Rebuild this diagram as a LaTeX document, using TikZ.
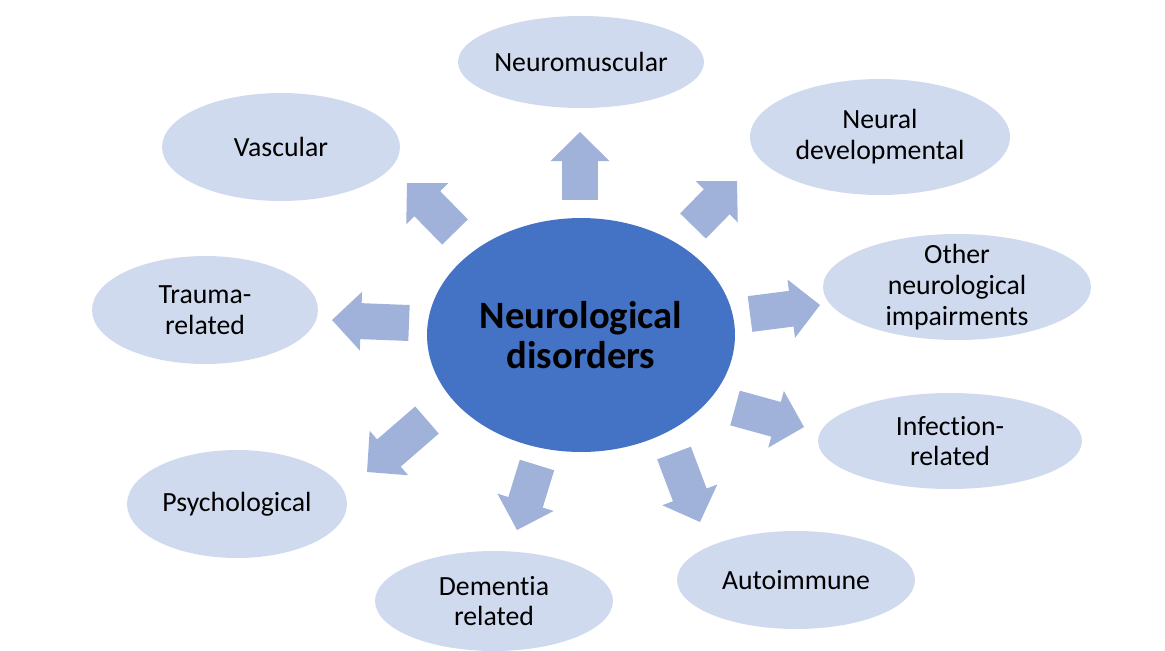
\documentclass[tikz,border=0pt]{standalone}
\usepackage{fontspec}
\setmainfont{Carlito}[Ligatures=NoCommon]
\usetikzlibrary{shapes.geometric,arrows.meta}
\definecolor{hubblue}{RGB}{68,114,196}
\definecolor{leafblue}{RGB}{207,218,238}
\definecolor{spokeblue}{RGB}{161,178,218}

\begin{document}
\begin{tikzpicture}[x=0.02cm, y=-0.02cm,
    leaf/.style={ellipse, fill=leafblue, inner sep=0pt, align=center,
      font=\fontsize{15.8}{17.6}\selectfont},
    spoke/.style={draw=spokeblue, line width=0.72cm,
      -{Triangle[width=1.17cm,length=0.58cm,line width=1pt]}}]
  \useasboundingbox (0,0) rectangle (1165,650);
  % centre
  \node[ellipse, fill=hubblue, inner sep=0pt, minimum width=6.16cm, minimum height=4.68cm,
    align=center, font=\fontsize{22}{23}\selectfont\bfseries] (hub) at (581,335) {Neurological\\disorders};
  % outer bubbles
  \node[leaf, minimum width=4.92cm, minimum height=1.84cm] (neuromusc) at (581,62) {Neuromuscular};
  \node[leaf, minimum width=5.2cm, minimum height=2.32cm] (neuraldev) at (880,137) {Neural\\developmental};
  \node[leaf, minimum width=5.36cm, minimum height=2.12cm, inner ysep=-5pt] (other) at (957,287) {Other\\neurological\\impairments};
  \node[leaf, minimum width=5.28cm, minimum height=1.92cm] (infect) at (950,441) {Infection-\\related};
  \node[leaf, minimum width=4.76cm, minimum height=1.96cm] (autoimm) at (796,580) {Autoimmune};
  \node[leaf, minimum width=4.76cm, minimum height=2cm] (dementia) at (494,601) {Dementia\\related};
  \node[leaf, minimum width=4.4cm, minimum height=2.16cm] (psych) at (237,504) {Psychological};
  \node[leaf, minimum width=4.52cm, minimum height=2.16cm] (trauma) at (205,310) {Trauma-\\related};
  \node[leaf, minimum width=4.76cm, minimum height=2.16cm] (vasc) at (281,147) {Vascular};
  % block arrows
  \foreach \n/\ax/\ay/\bx/\by in {vasc/455/232/407/183, neuromusc/580/200/580/132,
      neuraldev/693/226/737/181, other/750/314/820/305, infect/735/408/804/427,
      autoimm/674/453/700/522, dementia/537/465/517/530, psych/427/420/367/472,
      trauma/409/323/332/320}{
    \coordinate (from\n) at (\ax,\ay);
    \coordinate (to\n) at (\bx,\by);
    \draw[spoke] (from\n) -- (to\n);
  }
\end{tikzpicture}
\end{document}
